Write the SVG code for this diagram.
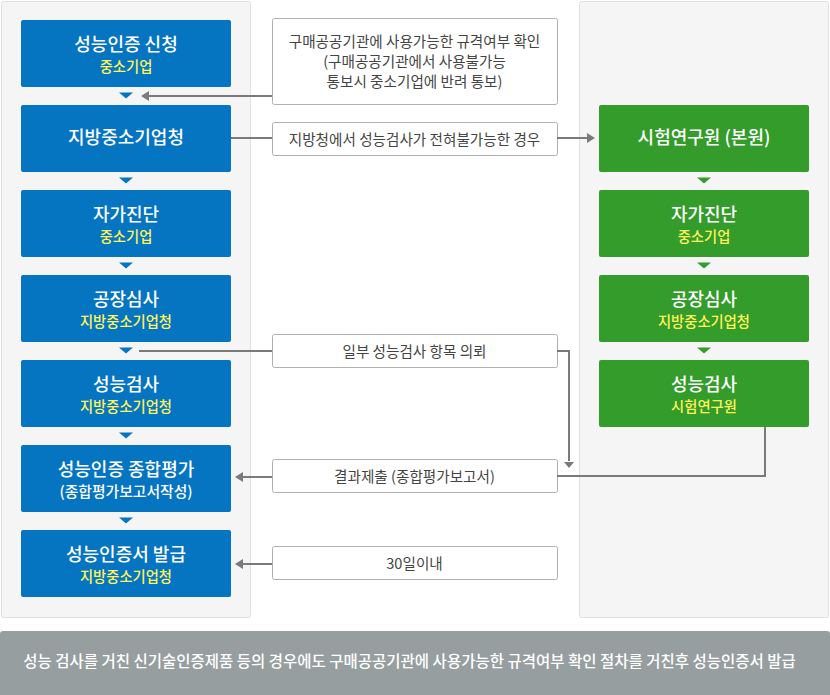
<svg xmlns="http://www.w3.org/2000/svg" width="830" height="695" viewBox="0 0 830 695">
<style>
text{font-family:"Noto Sans CJK KR","Noto Sans",sans-serif;}
.panel{fill:#f5f5f5;stroke:#e0e0e0;stroke-width:1;}
.blue{fill:#0575c1;}
.green{fill:#339c2b;}
.t{fill:#fff;font-size:18px;font-weight:500;text-anchor:middle;}
.t2{fill:#fff;font-size:14.8px;font-weight:500;text-anchor:middle;}
.s{fill:#fff35a;font-size:14.3px;font-weight:500;text-anchor:middle;}
.lb{fill:#fff;stroke:#b0b0b0;stroke-width:1;}
.lt{fill:#444;font-size:14.6px;text-anchor:middle;}
.ln{fill:none;stroke:#7a7a7a;stroke-width:2;}
.ah{fill:#7a7a7a;}
.tb{fill:#0575c1;}
.tg{fill:#339c2b;}
</style>
<rect class="panel" x="1.5" y="1.5" width="249" height="616" rx="2"/>
<rect class="panel" x="579.5" y="1.5" width="249" height="616" rx="2"/>

<g id="b1"><rect class="blue" x="21" y="20" width="210" height="67" rx="2"/><text class="t" x="126" y="51">성능인증 신청</text><text class="s" x="126" y="71.5">중소기업</text></g>
<g id="b2"><rect class="blue" x="21" y="105" width="210" height="67" rx="2"/><text class="t" x="126" y="144">지방중소기업청</text></g>
<g id="b3"><rect class="blue" x="21" y="190" width="210" height="67" rx="2"/><text class="t" x="126" y="221">자가진단</text><text class="s" x="126" y="241.5">중소기업</text></g>
<g id="b4"><rect class="blue" x="21" y="275" width="210" height="67" rx="2"/><text class="t" x="126" y="306">공장심사</text><text class="s" x="126" y="326.5">지방중소기업청</text></g>
<g id="b5"><rect class="blue" x="21" y="360" width="210" height="67" rx="2"/><text class="t" x="126" y="391">성능검사</text><text class="s" x="126" y="411.5">지방중소기업청</text></g>
<g id="b6"><rect class="blue" x="21" y="445" width="210" height="67" rx="2"/><text class="t" x="126" y="476">성능인증 종합평가</text><text class="t2" x="126" y="496.5">(종합평가보고서작성)</text></g>
<g id="b7"><rect class="blue" x="21" y="530" width="210" height="67" rx="2"/><text class="t" x="126" y="561">성능인증서 발급</text><text class="s" x="126" y="581.5">지방중소기업청</text></g>

<g id="g1"><rect class="green" x="599" y="105" width="210" height="67" rx="2"/><text class="t" x="704" y="144">시험연구원 (본원)</text></g>
<g id="g2"><rect class="green" x="599" y="190" width="210" height="67" rx="2"/><text class="t" x="704" y="221">자가진단</text><text class="s" x="704" y="241.5">중소기업</text></g>
<g id="g3"><rect class="green" x="599" y="275" width="210" height="67" rx="2"/><text class="t" x="704" y="306">공장심사</text><text class="s" x="704" y="326.5">지방중소기업청</text></g>
<g id="g4"><rect class="green" x="599" y="360" width="210" height="67" rx="2"/><text class="t" x="704" y="391">성능검사</text><text class="s" x="704" y="411.5">시험연구원</text></g>

<g id="l1"><rect class="lb" x="272.5" y="18.5" width="285" height="86" rx="2"/><text class="lt" x="414.5" y="47">구매공공기관에 사용가능한 규격여부 확인</text><text class="lt" x="414.5" y="67">(구매공공기관에서 사용불가능</text><text class="lt" x="414.5" y="87">통보시 중소기업에 반려 통보)</text></g>
<g id="l2"><rect class="lb" x="272.5" y="122.5" width="285" height="33" rx="2"/><text class="lt" x="414.5" y="144.5">지방청에서 성능검사가 전혀불가능한 경우</text></g>
<g id="l3"><rect class="lb" x="272.5" y="334.5" width="285" height="33" rx="2"/><text class="lt" x="414.5" y="356.5">일부 성능검사 항목 의뢰</text></g>
<g id="l4"><rect class="lb" x="272.5" y="459.5" width="285" height="33" rx="2"/><text class="lt" x="414.5" y="481.5">결과제출 (종합평가보고서)</text></g>
<g id="l5"><rect class="lb" x="272.5" y="546.5" width="285" height="33" rx="2"/><text class="lt" x="414.5" y="568.5">30일이내</text></g>

<g id="connectors">
<polygon class="tb" points="119,92.5 133,92.5 126,98.5"/>
<polygon class="tb" points="119,177.5 133,177.5 126,183.5"/>
<polygon class="tb" points="119,262.5 133,262.5 126,268.5"/>
<polygon class="tb" points="119,347.5 133,347.5 126,353.5"/>
<polygon class="tb" points="119,432.5 133,432.5 126,438.5"/>
<polygon class="tb" points="119,517.5 133,517.5 126,523.5"/>
<polygon class="tg" points="697,177.5 711,177.5 704,183.5"/>
<polygon class="tg" points="697,262.5 711,262.5 704,268.5"/>
<polygon class="tg" points="697,347.5 711,347.5 704,353.5"/>

<path class="ln" d="M272,96 H148"/><polygon class="ah" points="141,96 149,91 149,101"/>
<path class="ln" d="M231,138 H272 M557,138 H588"/><polygon class="ah" points="595,138 587,133 587,143"/>
<path class="ln" d="M139,351 H272 M557,351 H569 V461"/><polygon class="ah" points="569,468 564,462 574,462"/>
<path class="ln" d="M765,427 V476 H557"/>
<path class="ln" d="M272,477 H242"/><polygon class="ah" points="235,477 243,472 243,482"/>
<path class="ln" d="M272,564 H242"/><polygon class="ah" points="235,564 243,559 243,569"/>
</g>

<g id="banner"><rect x="0" y="631" width="830" height="70" rx="3" fill="#969ea0"/><text x="409.5" y="667" fill="#fff" font-size="15.5" font-weight="500" text-anchor="middle">성능 검사를 거친 신기술인증제품 등의 경우에도 구매공공기관에 사용가능한 규격여부 확인 절차를 거친후 성능인증서 발급</text></g>
</svg>
